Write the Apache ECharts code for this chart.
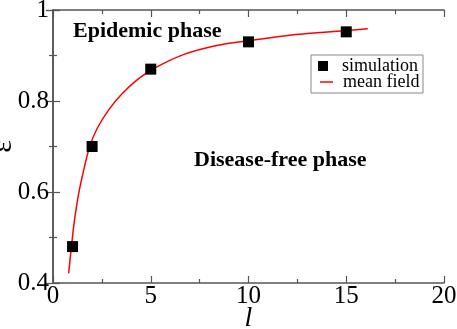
<!DOCTYPE html>
<html>
<head>
<meta charset="utf-8">
<script src="https://cdn.jsdelivr.net/npm/echarts@6/dist/echarts.min.js"></script>
<style>
    html, body {margin: 0; padding: 0; background: #fff;}
    #chart {width: 457px; height: 329px;}
</style>
</head>
<body>
<div id="chart"></div>
<script>
// simulation points
let simL = [1, 2, 5, 10, 15];
let simEps = [0.48, 0.70, 0.87, 0.93, 0.952];
// mean field curve
let mfL = [0.80, 0.94, 1.10, 1.31, 1.57, 1.87, 2.25, 2.84, 3.53, 4.38, 5.23, 6.67, 8.37, 9.91, 11.8, 13.5, 15.0, 16.1];
let mfEps = [0.421, 0.479, 0.538, 0.596, 0.648, 0.699, 0.739, 0.780, 0.816, 0.849, 0.873, 0.902, 0.922, 0.932, 0.943, 0.950, 0.955, 0.959];
let xTicks = [0, 5, 10, 15, 20];
let yTicks = [0.4, 0.6, 0.8, 1];

let serif = 'Liberation Serif';
let axisColor = '#555';

let pairs = (xs, ys) => xs.map((x, i) => [x, ys[i]]);

// shared axis look, ticks pointing inwards
let frameAxis = (extra) => Object.assign({
    type: 'value',
    axisLine: {show: true, lineStyle: {color: axisColor, width: 1.5}},
    axisTick: {show: true, inside: true, length: 7, lineStyle: {color: axisColor, width: 1.2}},
    minorTick: {show: true, splitNumber: 2, length: 4, lineStyle: {color: axisColor, width: 1.2}},
    splitLine: {show: false},
    minorSplitLine: {show: false}
}, extra);

let option = {
    animation: false,
    grid: {left: 53, right: 13, top: 10, bottom: 46, containLabel: false, outerBoundsMode: 'none'},
    xAxis: [
        frameAxis({
            position: 'bottom',
            min: xTicks[0],
            max: xTicks[xTicks.length - 1],
            interval: xTicks[1] - xTicks[0],
            name: 'l',
            nameLocation: 'middle',
            nameMoveOverlap: false,
            nameGap: 22,
            nameTextStyle: {fontFamily: serif, fontStyle: 'italic', fontSize: 28, color: '#000'},
            axisLabel: {fontFamily: serif, fontSize: 25, color: '#000', margin: 1}
        }),
        frameAxis({
            position: 'top',
            min: xTicks[0],
            max: xTicks[xTicks.length - 1],
            interval: xTicks[1] - xTicks[0],
            axisLabel: {show: false}
        })
    ],
    yAxis: [
        frameAxis({
            position: 'left',
            min: yTicks[0],
            max: yTicks[yTicks.length - 1],
            interval: yTicks[1] - yTicks[0],
            name: 'ε',
            nameLocation: 'middle',
            nameMoveOverlap: false,
            nameRotate: 90,
            nameGap: 35,
            nameTextStyle: {fontFamily: serif, fontSize: 30, color: '#000'},
            axisLabel: {fontFamily: serif, fontSize: 25, color: '#000', margin: 4,
                formatter: (v) => String(Math.round(v * 10) / 10)}
        }),
        frameAxis({
            position: 'right',
            min: yTicks[0],
            max: yTicks[yTicks.length - 1],
            interval: yTicks[1] - yTicks[0],
            axisLabel: {show: false}
        })
    ],
    legend: [
        {
            data: [{name: 'simulation', icon: 'rect'}],
            left: 311,
            top: 55,
            orient: 'vertical',
            itemWidth: 10,
            itemHeight: 10,
            padding: [2, 5, 18, 7],
            borderColor: '#888',
            borderWidth: 1,
            borderRadius: 0,
            textStyle: {fontFamily: serif, fontSize: 18, color: '#000', padding: [0, 0, 0, 9]}
        },
        {
            data: [{name: 'mean field', icon: 'rect'}],
            left: 320,
            top: 73,
            orient: 'vertical',
            itemWidth: 13,
            itemHeight: 1.5,
            padding: 0,
            textStyle: {fontFamily: serif, fontSize: 18, color: '#000', padding: [0, 0, 0, 5]}
        }
    ],
    graphic: [
        {
            type: 'text',
            left: 73,
            top: 20,
            style: {text: 'Epidemic phase', fontFamily: serif, fontWeight: 'bold', fontSize: 22, fill: '#000'}
        },
        {
            type: 'text',
            left: 194,
            top: 149,
            style: {text: 'Disease-free phase', fontFamily: serif, fontWeight: 'bold', fontSize: 22, fill: '#000'}
        }
    ],
    series: [
        {
            name: 'mean field',
            type: 'line',
            smooth: 0.4,
            symbol: 'none',
            data: pairs(mfL, mfEps),
            itemStyle: {color: '#ff0000'},
            lineStyle: {color: '#ff0000', width: 1.5},
            z: 2
        },
        {
            name: 'simulation',
            type: 'scatter',
            symbol: 'rect',
            symbolSize: 11,
            data: pairs(simL, simEps),
            itemStyle: {color: '#000', opacity: 1},
            z: 3
        }
    ]
};

let chart = echarts.init(document.getElementById('chart'));
chart.setOption(option);
</script>
</body>
</html>
